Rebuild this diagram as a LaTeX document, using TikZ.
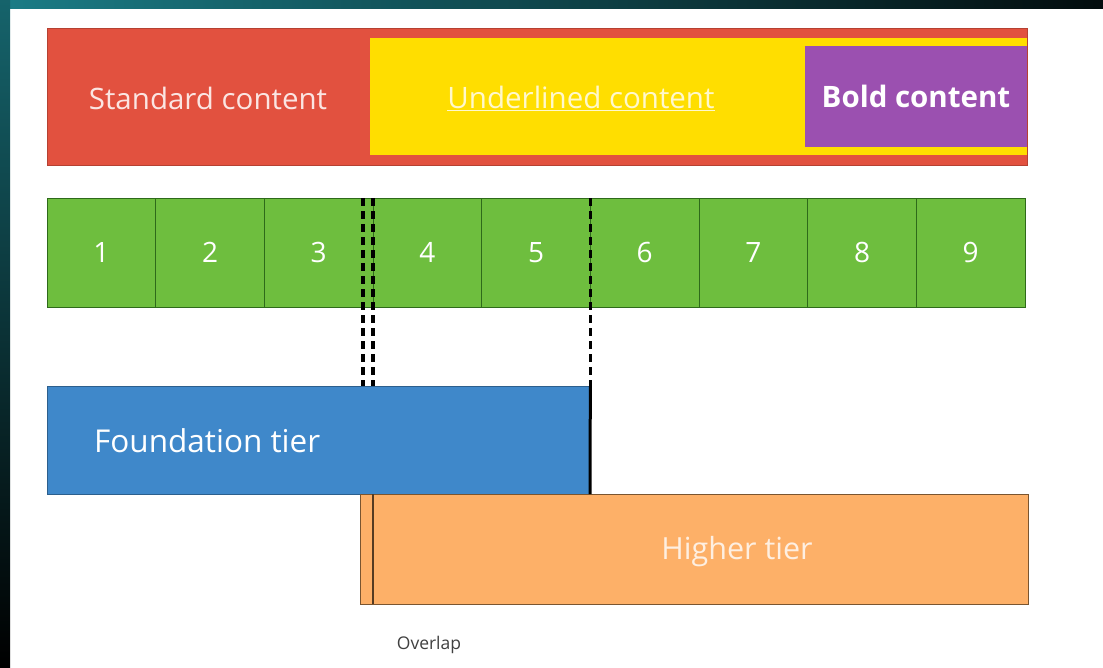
\documentclass[tikz,border=0pt]{standalone}
\usepackage{fontspec}
\setmainfont{Open Sans}
\definecolor{cRed}{HTML}{E2513F}
\definecolor{cYel}{HTML}{FFDE00}
\definecolor{cPur}{HTML}{9B50B0}
\definecolor{cGrn}{HTML}{6EBE3E}
\definecolor{cGrnD}{HTML}{2E6A1A}
\definecolor{cBlu}{HTML}{3F88CA}
\definecolor{cOra}{HTML}{FDB068}
\definecolor{cOraD}{HTML}{7A5530}
\definecolor{cTeal}{HTML}{1B7C86}
\begin{document}
\begin{tikzpicture}[x=1pt,y=-1pt,
  box/.style={inner sep=0pt, outer sep=0pt, anchor=north west},
  lbl/.style={text=white, font=\fontsize{29.5}{34}\selectfont, inner sep=0pt},
  cell/.style={box, fill=cGrn, draw=cGrnD, line width=0.8pt, minimum width=108.67pt, minimum height=109pt},
  dashline/.style={black, line width=3.2pt, dash pattern=on 8pt off 5pt},
]
\useasboundingbox (0,0) rectangle (1103,667);
\fill[white] (0,0) rectangle (1103,667);
\shade[left color=cTeal, right color=black!90!cTeal] (0,0) rectangle (1103,8);
\shade[top color=cTeal!80!black, bottom color=black] (0,0) rectangle (10,667);

% top bar
\node[box, fill=cRed, draw=cRed!80!black, line width=0.6pt, minimum width=980pt, minimum height=137pt] (std) at (47,28) {};
\node[box, fill=cYel, minimum width=657pt, minimum height=121pt] (und) at (370,36) {};
\draw[cRed, line width=4pt] (und.north west) -- (und.north east);
\draw[cRed, line width=4pt] (und.south west) -- (und.south east);
\node[box, fill=cPur, minimum width=222pt, minimum height=101pt] (bold) at (805,46) {};
\node[lbl, text=white!85!cRed] (stdt) at (208,98) {Standard content};
\node[lbl, text=white!80!cYel] (undt) at (581,98) {\underline{Underlined content}};
\node[lbl, font=\fontsize{29.5}{34}\selectfont\bfseries] (boldt) at (bold.center) {Bold content};

% number cells
\foreach \i in {1,...,9} {
  \node[cell] (c\i) at ({47+(\i-1)*108.67},198) {};
  \node[lbl, font=\fontsize{28}{32}\selectfont] at (c\i.center) {\i};
}

% tiers
\coordinate (a1) at ([xshift=-10pt]c4.north west);
\coordinate (a2) at (c4.north west);
\coordinate (a3) at (c5.north east);
\node[box, fill=cBlu, draw=cBlu!70!black, line width=0.6pt, minimum width=543pt, minimum height=108pt] (found) at (47,386) {};
\node[lbl, anchor=west, font=\fontsize{31.5}{36}\selectfont] (foundt) at (94,441) {Foundation tier};
\node[box, fill=cOra, draw=cOraD, line width=1pt, minimum width=668pt, minimum height=110pt] (high) at (360,494) {};
\node[lbl, text=white!80!cOra, font=\fontsize{30.5}{35}\selectfont] (hight) at (737,552) {Higher tier};
\node[text=black!75, font=\fontsize{17.5}{20}\selectfont, inner sep=0pt] (ov) at (429,645) {Overlap};

\coordinate (b1) at (a1 |- found.north);
\coordinate (b2) at (a2 |- found.north);
\coordinate (b3) at (a3 |- found.north);
\draw[dashline] (a1) -- (b1);
\draw[dashline] (a2) -- (b2);
\draw[dashline] (a3) -- (b3);
\draw[black, line width=3pt] (b3) -- (found.south east);
\draw[cOraD!70!black, line width=2.8pt] (a2 |- high.north) -- (a2 |- high.south);
\end{tikzpicture}
\end{document}
